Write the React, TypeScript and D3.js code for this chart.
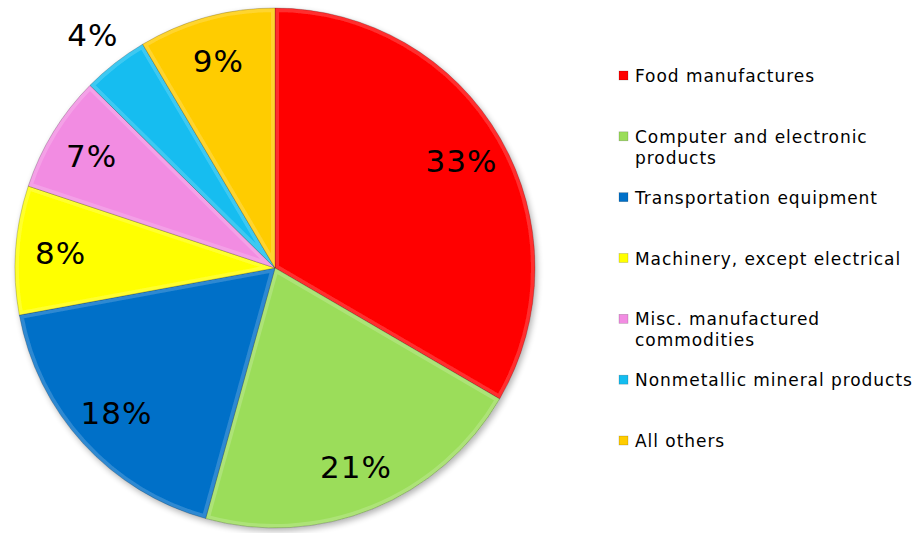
import React from "react";
import * as d3 from "d3";

const categories = [
  ["Food manufactures"],
  ["Computer and electronic", "products"],
  ["Transportation equipment"],
  ["Machinery, except electrical"],
  ["Misc. manufactured", "commodities"],
  ["Nonmetallic mineral products"],
  ["All others"],
];
const values = [33.4, 20.9, 17.8, 8.0, 7.3, 4.1, 8.5];
const labels = ["33%", "21%", "18%", "8%", "7%", "4%", "9%"];
const colors = ["#FF0000", "#9BDD5A", "#0070C8", "#FFFF00", "#F28CE2", "#14BDF0", "#FFCC00"];

const W = 913, H = 533;
const cx = 275, cy = 268, R = 260;

export default function App() {
  const arcs = d3.pie<number>().sort(null).value((d) => d)(values);
  const arcGen = d3.arc<d3.PieArcDatum<number>>().innerRadius(0).outerRadius(R);
  const labelArc = d3.arc<d3.PieArcDatum<number>>().innerRadius(215).outerRadius(215);
  const outArc = d3.arc<d3.PieArcDatum<number>>().innerRadius(296).outerRadius(296);
  const legendY = d3.scaleLinear().domain([0, 6]).range([76, 441]);
  const font = "'DejaVu Sans', Verdana, sans-serif";
  return (
    <svg width={W} height={H} style={{ position: "absolute", left: 0, top: 0, background: "#fff" }}>
      <defs>
        <filter id="shadow" x="-10%" y="-10%" width="120%" height="120%">
          <feGaussianBlur in="SourceAlpha" stdDeviation="3" />
          <feOffset dx="2" dy="3" result="b" />
          <feComponentTransfer><feFuncA type="linear" slope="0.3" /></feComponentTransfer>
          <feMerge><feMergeNode /><feMergeNode in="SourceGraphic" /></feMerge>
        </filter>
        {arcs.map((a, i) => (
          <clipPath id={`clip${i}`} key={i}>
            <path d={arcGen(a) || ""} />
          </clipPath>
        ))}
      </defs>
      <g transform={`translate(${cx},${cy})`} filter="url(#shadow)">
        {arcs.map((a, i) => (
          <g key={i}>
            <path d={arcGen(a) || ""} fill={colors[i]} />
            <path d={arcGen(a) || ""} fill="none" stroke="#fff" strokeOpacity={0.18} strokeWidth={8} clipPath={`url(#clip${i})`} />
            <path d={arcGen(a) || ""} fill="none" stroke="#000" strokeOpacity={0.2} strokeWidth={1} strokeLinejoin="round" />
          </g>
        ))}
      </g>
      <g transform={`translate(${cx},${cy})`}>
        {arcs.map((a, i) => {
          const [x, y] = (i === 5 ? outArc : labelArc).centroid(a);
          return (
            <text key={i} x={x} y={y} textAnchor="middle" dominantBaseline="central"
              fontFamily={font} fontSize={31} letterSpacing={1} fill="#000">{labels[i]}</text>
          );
        })}
      </g>
      <g>
        {categories.map((lines, i) => {
          const y = legendY(i);
          return (
            <g key={i}>
              <rect x={619} y={y - 5} width={9} height={9} fill={colors[i]} stroke="#000" strokeOpacity={0.25} strokeWidth={0.6} />
              {lines.map((t, j) => (
                <text key={j} x={635} y={y + j * 21} dominantBaseline="central" fontFamily={font} fontSize={17} letterSpacing={0.95} fill="#000">{t}</text>
              ))}
            </g>
          );
        })}
      </g>
    </svg>
  );
}
